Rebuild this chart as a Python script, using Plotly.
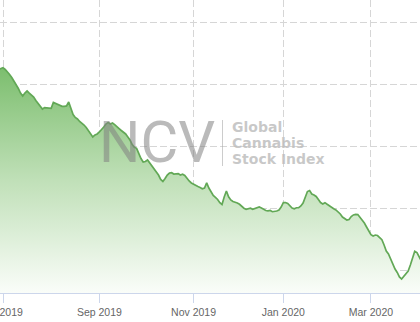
import pandas as pd
import plotly.graph_objects as go

# ---- data -------------------------------------------------------------
start_date = "2019-06-27"
end_date = "2020-04-02"
holidays = ["2019-07-04", "2019-09-02", "2019-11-28", "2019-12-25",
            "2020-01-01", "2020-01-20", "2020-02-17"]

index_values = [
    261.7, 262.1, 263.1, 261.7, 260.1, 257.7, 255.2, 252.4, 250.0, 246.4,
    242.7, 240.3, 242.7, 244.4, 242.7, 241.1, 239.5, 236.7, 234.3, 231.5,
    229.8, 231.0, 230.6, 230.2, 230.4, 235.1, 234.3, 233.6, 233.1, 232.0,
    231.9, 232.3, 235.5, 230.6, 225.4, 223.0, 221.8, 219.8, 218.5, 216.9,
    214.9, 212.1, 209.3, 207.3, 208.9, 209.7, 211.3, 212.9, 215.3, 217.7,
    219.0, 217.7, 218.5, 217.3, 215.3, 214.1, 212.5, 211.3, 209.7, 207.3,
    204.8, 201.2, 199.0, 198.1, 193.5, 189.9, 187.1, 187.5, 188.7, 186.3,
    184.3, 181.9, 179.4, 176.6, 173.0, 171.4, 173.8, 176.6, 178.2, 178.5,
    177.4, 177.3, 177.7, 176.6, 177.2, 176.2, 173.8, 171.8, 170.2, 169.0,
    168.1, 167.3, 166.5, 165.5, 166.1, 170.2, 166.1, 162.9, 160.1, 158.6,
    156.9, 154.2, 152.8, 158.9, 163.7, 159.0, 156.5, 155.2, 154.8, 154.0,
    153.0, 151.2, 149.8, 149.0, 149.4, 149.8, 149.0, 149.6, 150.8, 150.8,
    150.0, 149.0, 148.0, 147.7, 148.0, 147.0, 147.2, 147.6, 148.4, 150.8,
    154.4, 154.4, 153.6, 152.0, 150.0, 149.4, 150.2, 150.3, 151.6, 154.0,
    158.9, 163.3, 164.1, 161.3, 160.5, 159.3, 156.9, 154.4, 153.2, 154.3,
    153.0, 151.6, 150.2, 149.4, 148.4, 147.0, 145.2, 142.7, 141.1, 140.3,
    140.7, 143.1, 144.4, 144.9, 144.7, 142.7, 140.3, 137.9, 134.7, 132.0,
    128.5, 127.4, 128.2, 127.8, 125.8, 124.4, 120.2, 115.3, 112.9, 108.9,
    103.6, 100.8, 98.0, 94.4, 92.7, 95.2, 97.6, 99.2, 104.0, 109.7,
    115.1, 114.1, 110.1, 107.3,
]

tick_dates = ["2019-07-01", "2019-09-03", "2019-11-01", "2020-01-02", "2020-03-02"]
tick_labels = ["Jul 2019", "Sep 2019", "Nov 2019", "Jan 2020", "Mar 2020"]
y_grid = [100, 150, 200, 250, 300]

# ---- build ------------------------------------------------------------
days = pd.bdate_range(start_date, end_date)
days = days[~days.isin(pd.to_datetime(holidays))]
if len(days) != len(index_values):
    raise ValueError(f"{len(days)} dates vs {len(index_values)} values")

fig = go.Figure()
fig.add_trace(go.Scatter(
    x=days, y=index_values, mode="lines",
    line=dict(color="#62a856", width=1.7),
    fill="tozeroy",
    fillgradient=dict(type="vertical",
                      colorscale=[[0, "rgb(250,253,249)"], [0.5, "rgb(192,224,184)"],
                                  [1, "rgb(124,190,110)"]],
                      start=81.45, stop=263),
    hoverinfo="skip", showlegend=False,
))

grid_col = "#d6d6d6"
fig.update_xaxes(
    type="date", automargin=False,
    range=["2019-06-27 15:07", "2020-04-01 09:36"],
    rangebreaks=[dict(bounds=["sat", "mon"]), dict(values=holidays)],
    tickmode="array", tickvals=tick_dates, ticktext=tick_labels,
    ticklabeloverflow="allow",
    showgrid=True, gridcolor=grid_col, griddash="7px,3px", gridwidth=1,
    showline=True, linecolor="#ccd6eb", linewidth=1,
    ticks="outside", ticklen=9, tickcolor="#ccd6eb", tickwidth=1,
    tickfont=dict(family="Liberation Sans, Arial, sans-serif", size=10.5, color="#666666"),
    zeroline=False,
)
fig.update_yaxes(
    automargin=False,
    range=[81.45, 317.74],
    tickmode="array", tickvals=y_grid, showticklabels=False,
    showgrid=True, gridcolor=grid_col, griddash="7px,3px", gridwidth=1,
    zeroline=False, showline=False,
)

H = 293.0  # plot height in px for paper conversion
def py(p):
    return 1 - p / H

wm_grey = "rgba(130,130,130,0.55)"
fig.add_annotation(text="NCV", xref="paper", yref="paper",
                   x=97 / 420, y=py(142), xanchor="left", yanchor="middle",
                   showarrow=False,
                   font=dict(family="Roboto, Liberation Sans, sans-serif", size=58,
                             color=wm_grey, weight=400))
fig.add_shape(type="line", xref="paper", yref="paper",
              x0=222.5 / 420, x1=222.5 / 420, y0=py(120), y1=py(166),
              line=dict(color="rgba(170,170,170,0.6)", width=1))
for txt, cy in [("Global", 127.1), ("Cannabis", 143.1), ("Stock Index", 158.8)]:
    fig.add_annotation(text=txt, xref="paper", yref="paper",
                       x=229.5 / 420, y=py(cy), xanchor="left", yanchor="middle",
                       showarrow=False,
                       font=dict(family="DejaVu Sans, sans-serif", size=14,
                                 color="rgba(190,190,190,0.85)", weight="bold"))

fig.update_layout(
    width=420, height=322,
    margin=dict(l=0, r=0, t=0, b=29, autoexpand=False),
    plot_bgcolor="white", paper_bgcolor="white",
)

fig.write_html("out.html")
